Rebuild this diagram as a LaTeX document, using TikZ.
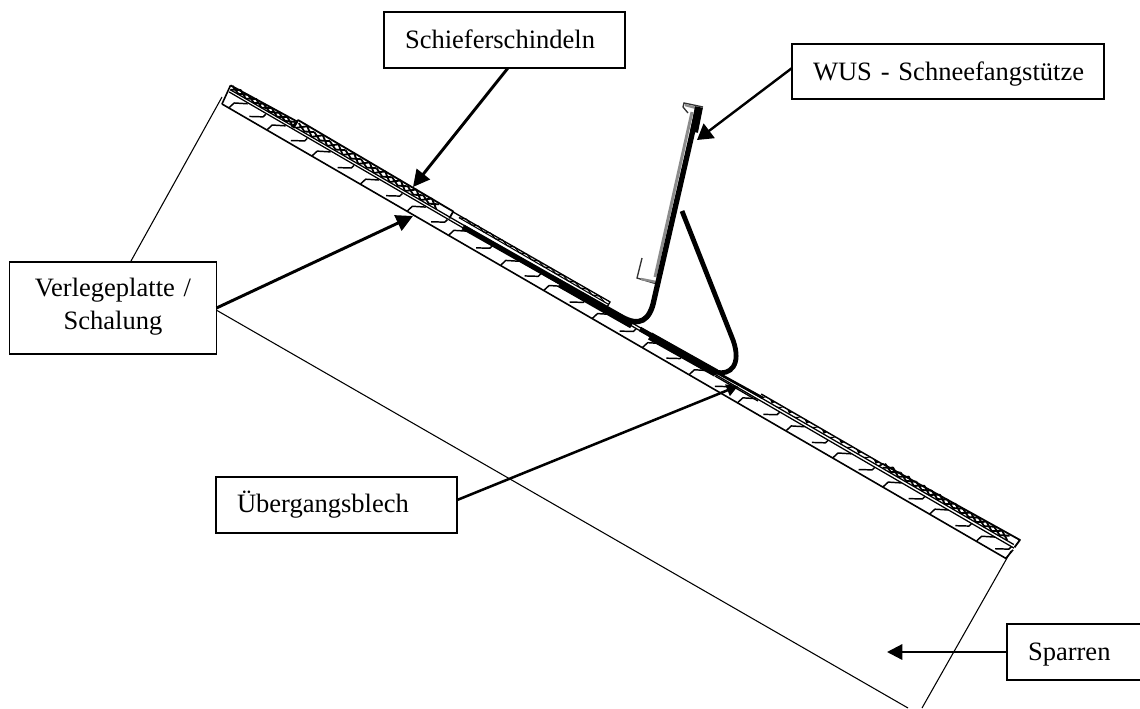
\documentclass[tikz,border=0pt]{standalone}
\usepackage{fontspec}
\setmainfont{Liberation Serif}
\usetikzlibrary{arrows.meta}
\tikzset{
  lbl/.style n args={4}{draw=black,line width=1pt,fill=white,rectangle,anchor=north west,outer sep=0pt,
    inner ysep=0pt,inner xsep=#3*0.75pt,text width=(#1-2*#3)*0.75pt,
    text height=#4*0.75pt,text depth=(#2-#4)*0.75pt,
    font=\fontsize{19.9}{24.75}\selectfont},
  ptr/.style={line width=2.2pt,-{Triangle[length=12.5pt,width=12.5pt]}},
  thin outline/.style={line width=0.8pt},
  boardline/.style={line width=1.2pt},
  grain/.style={line width=1.1pt,line join=round},
  shing/.style={line width=1.35pt,line join=round},
  shingl/.style={line width=0.8pt,line join=round},
  strap/.style={line width=4pt,line cap=butt,line join=round},
  hookl/.style={line width=1pt,draw=black!80},
}
\begin{document}
\begin{tikzpicture}[x=0.75pt,y=-0.75pt]
\useasboundingbox (0,0) rectangle (1140,708);
\fill[white] (0,0) rectangle (1140,708);
% rafter outline
\coordinate (rTL) at (222,97);
\coordinate (rBL) at (131,261);
\coordinate (rBR) at (908,708);
\coordinate (rTR) at (1011,551);
\coordinate (rBRR) at (922,708);
\draw[thin outline] (rTL) -- (rBL) -- (rBR);
\draw[thin outline] (rTR) -- (rBRR);
% roof layers in local coordinates
\begin{scope}[shift={(222,104)},rotate=-30.1,yscale=-1]
  \draw[boardline] (0,0) -- (906,0) -- (908,11);
  \draw[boardline] (0,0) -- (-2,20.4);
  \draw[line width=0.95pt] (0,14) -- (908,13);
  \draw[line width=0.95pt] (0,16.5) -- (906,16);
  % board joints
  \foreach \u in {8,52,104,160,214,262,322,372,428,486,540,596,652,706,764,818,872}
    \draw[grain] (\u,0.5) -- (\u+2,7) -- (\u+14,13);
  % board grain
  \foreach \u in {30,78,132,188,240,292,348,400,458,512,568,624,680,734,792,846,892}
    \draw[grain] (\u,3) -- (\u+12,9.5) -- (\u+13,13);
  % dense shingle sections
  \draw[shing] (-2,20.4) -- (74,22.5) -- (74,15);
  \foreach \a in {0,18,36,54}
    \draw[shing] (\a,16.5) -- (\a+9,21.5) -- (\a+18,16.5) (\a,21) -- (\a+9,17) -- (\a+18,21);
  \draw[shing] (72,15) -- (74,24.3) -- (254,23) -- (254,15);
  \foreach \a in {76,94,...,230}
    \draw[shing] (\a,16.5) -- (\a+9,23.5) -- (\a+18,16.5) (\a,22) -- (\a+9,17.5) -- (\a+18,22);
  % lighter strip under the strut foot
  \draw[shingl,line width=1pt] (254,22.5) -- (435,23.4) -- (435,18);
  \draw[shingl] (262,20.5) -- (435,20.5);
  \foreach \a in {262,276,...,424}
    \draw[shingl] (\a,20.5) -- (\a+7,23) -- (\a+14,20.5);
  % strip after the transition plate
  \draw[shing,line width=1.1pt] (612,19.5) -- (752,19.7);
  \foreach \a in {612,632,...,740}
    \fill (\a,16.5) -- (\a+6,19.5) -- (\a+3,16.5) -- cycle (\a+10,19.5) -- (\a+14,16.5) -- (\a+16,19.5) -- cycle;
  % last dense section
  \draw[shing] (750,16) -- (752,20) -- (909,23) -- (908,14);
  \foreach \a in {754,772,...,880}
    \draw[shing] (\a,16.5) -- (\a+9,22) -- (\a+18,16.5) (\a,21.5) -- (\a+9,17) -- (\a+18,21.5);
\end{scope}
% snow guard
\coordinate (gT) at (692,112);
\coordinate (gB) at (655,277);
\draw[line width=2.2pt,draw=black!45] (gT) -- (gB);
\draw[hookl] (688,113) -- (683,107) -- (684,103) -- (703,107);
\draw[hookl] (642,258) -- (637,278) -- (657,284);
\draw[line width=1.8pt,draw=black!45] (685,105) -- (696,108);
\draw[line width=1.8pt,draw=black!45] (641,279) -- (656,282);
\coordinate (sA) at (463,227);
\coordinate (sB) at (620,316);
\coordinate (sC) at (654,300);
\coordinate (sD) at (698,108);
\draw[strap] (sA) -- (sB) .. controls (640,328) and (650,320) .. (sC) -- (sD);
\draw[line width=6pt] (699,107) -- (694,132);
\draw[line width=5.5pt] (560,284) -- (632,325);
\coordinate (tA) at (682,211);
\coordinate (tB) at (733,340);
\coordinate (tC) at (716,372);
\coordinate (tD) at (640,329);
\draw[strap,line width=3.6pt] (tA) -- (tB) .. controls (742,365) and (730,376) .. (tC) -- (tD);
\draw[line width=6pt] (650,336) -- (716,373);
\draw[line width=2pt] (714,371) -- (763,398);
\draw[line width=1pt] (715,376) -- (758,401);
% labels
\node[lbl={241}{56}{21}{36}] (schiefer) at (384,12) {Schieferschindeln};
\node[lbl={312}{55}{21}{36}] (wus) at (792,44) {\mbox{WUS - Schneefangstütze}};
\node[lbl={207}{92}{4}{34},align=center] (verlege) at (9.5,262) {Verlegeplatte /\\Schalung};
\node[lbl={241}{56}{21}{35}] (ueber) at (216,477) {Übergangsblech};
\node[lbl={160}{56}{21}{36}] (sparren) at (1007,624) {Sparren};
% connector tips
\coordinate (tipS) at (413,187);
\coordinate (tipV) at (413,216);
\coordinate (tipW) at (697,140);
\coordinate (tipU) at (738,386);
\coordinate (tipP) at (887,652);
\draw[ptr] ([xshift=2.6pt]schiefer.south) -- (tipS);
\draw[ptr] (verlege.east) -- (tipV);
\draw[ptr,line width=1.8pt,-{Triangle[length=11.5pt,width=13.5pt]}] ([yshift=2.6pt]wus.west) -- (tipW);
\draw[ptr,line width=1.9pt,-{Triangle[length=8.5pt,width=9pt]}] ([yshift=3.7pt]ueber.east) -- (tipU);
\draw[line width=1.7pt,-{Triangle[length=11.5pt,width=11.5pt]}] (sparren.west) -- (tipP);
\end{tikzpicture}
\end{document}
